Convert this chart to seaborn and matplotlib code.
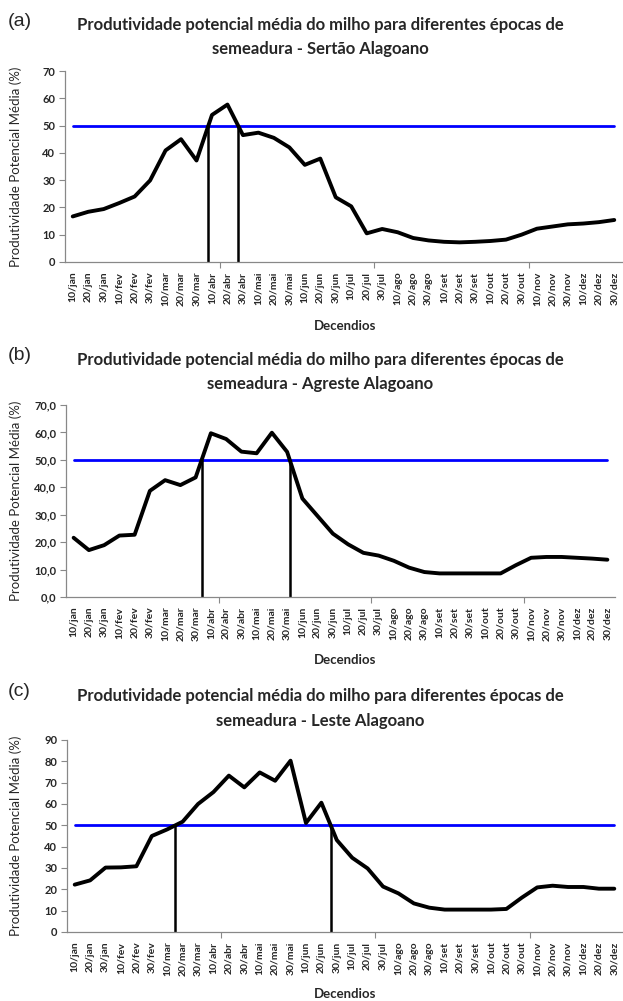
import numpy as np
import pandas as pd
import matplotlib
matplotlib.use("Agg")
import matplotlib.pyplot as plt
from matplotlib.ticker import FixedLocator, FuncFormatter
import seaborn as sns

decendios = ["10/jan", "20/jan", "30/jan", "10/fev", "20/fev", "30/fev",
             "10/mar", "20/mar", "30/mar", "10/abr", "20/abr", "30/abr",
             "10/mai", "20/mai", "30/mai", "10/jun", "20/jun", "30/jun",
             "10/jul", "20/jul", "30/jul", "10/ago", "20/ago", "30/ago",
             "10/set", "20/set", "30/set", "10/out", "20/out", "30/out",
             "10/nov", "20/nov", "30/nov", "10/dez", "20/dez", "30/dez"]

sertao = [16.7, 18.4, 19.4, 21.6, 24.0, 29.9, 40.9, 45.0, 37.2, 53.9, 57.7, 46.5,
          47.4, 45.5, 42.0, 35.6, 37.9, 23.7, 20.4, 10.5, 12.1, 10.9, 8.8, 7.9,
          7.4, 7.2, 7.4, 7.7, 8.2, 10.0, 12.2, 13.0, 13.8, 14.1, 14.6, 15.4]
agreste = [21.6, 17.1, 18.9, 22.4, 22.7, 38.7, 42.6, 40.8, 43.6, 59.7, 57.6, 53.0,
           52.4, 59.9, 52.9, 35.9, 29.5, 23.1, 19.2, 16.1, 15.1, 13.2, 10.7, 9.1,
           8.6, 8.6, 8.6, 8.6, 8.6, 11.6, 14.3, 14.6, 14.6, 14.3, 14.0, 13.6]
leste = [22.2, 24.2, 30.2, 30.3, 30.8, 45.0, 48.1, 51.7, 60.0, 65.6, 73.3, 67.8,
         74.8, 70.9, 80.3, 51.1, 60.6, 43.1, 34.8, 29.8, 21.3, 18.1, 13.4, 11.4,
         10.5, 10.5, 10.5, 10.5, 10.8, 16.1, 20.9, 21.7, 21.1, 21.1, 20.3, 20.3]

limiar = 50
panel_letters = ["(a)", "(b)", "(c)"]
regioes = ["Sertão Alagoano", "Agreste Alagoano", "Leste Alagoano"]
ymaxs = [70, 70, 90]
decimal_fmt = [False, True, False]

sns.set_style("white")
plt.rcParams["font.family"] = ["Lato", "DejaVu Sans"]

W, H = 623, 1001
fig = plt.figure(figsize=(W / 100, H / 100), dpi=100)

def fy(py):
    return 1 - py / H

# axes boxes in pixels: left, right, top, bottom
boxes = [(65, 622, 71, 262), (66, 615, 405, 597), (67, 622, 740, 932)]
title_l1 = [25, 360, 696]
title_l2 = [49, 384, 721]
letter_c = [22, 355, 691]
xlabel_c = [326, 660, 994]

series = [sertao, agreste, leste]
pos = np.arange(len(decendios))

for k in range(3):
    vals = series[k]
    df = pd.DataFrame({"pos": pos, "valor": vals, "limiar": [limiar] * len(vals)})
    l, r, t, b = boxes[k]
    ax = fig.add_axes([l / W, fy(b), (r - l) / W, (b - t) / H])
    sns.lineplot(data=df, x="pos", y="limiar", ax=ax, color="#0000ff", lw=2.0)
    sns.lineplot(data=df, x="pos", y="valor", ax=ax, color="black", lw=2.8)

    # vertical lines where series crosses the threshold
    v = np.asarray(vals)
    for i in range(len(v) - 1):
        if (v[i] - limiar) * (v[i + 1] - limiar) < 0:
            xc = i + (limiar - v[i]) / (v[i + 1] - v[i])
            ax.vlines(xc, 0, limiar, color="black", lw=1.8)

    ax.set_xlim(-0.5, len(decendios) - 0.5)
    ax.set_ylim(0, ymaxs[k])
    ax.set_yticks(np.arange(0, ymaxs[k] + 1, 10))
    if decimal_fmt[k]:
        ax.yaxis.set_major_formatter(FuncFormatter(lambda y, p: f"{y:.1f}".replace(".", ",")))
    ax.set_xticks(pos)
    ax.set_xticklabels(decendios, rotation=90, fontsize=7.5, fontweight="bold")
    ax.xaxis.set_minor_locator(FixedLocator([9.5, 19.5, 29.5]))
    ax.tick_params(axis="x", which="major", length=0, pad=7)
    ax.tick_params(axis="x", which="minor", length=4, color="#888888", width=0.8, direction="out", bottom=True)
    ax.tick_params(axis="y", length=4, color="#888888", width=0.8, direction="out", left=True, pad=3)
    for lab in ax.get_yticklabels():
        lab.set_fontweight("bold")
        lab.set_fontsize(8)
    for s in ["top", "right"]:
        ax.spines[s].set_visible(False)
    for s in ["left", "bottom"]:
        ax.spines[s].set_color("#888888")
        ax.spines[s].set_linewidth(0.9)
    ax.set_xlabel("")
    ax.set_ylabel("Produtividade Potencial Média (%)", fontsize=9.5)
    ax.yaxis.set_label_coords((22 - l) / (r - l), 0.5)

    fig.text(320 / W, fy(title_l1[k]),
             "Produtividade potencial média do milho para diferentes épocas de",
             ha="center", va="center", fontsize=12, fontweight="bold")
    fig.text(320 / W, fy(title_l2[k]), f"semeadura - {regioes[k]}",
             ha="center", va="center", fontsize=12, fontweight="bold")
    fig.text(8 / W, fy(letter_c[k]), panel_letters[k], ha="left", va="center",
             fontsize=14, family=["Liberation Sans", "DejaVu Sans"])
    fig.text(345 / W, fy(xlabel_c[k]), "Decendios", ha="center", va="center",
             fontsize=9.5, fontweight="bold")

fig.savefig("out.png", dpi=100)
